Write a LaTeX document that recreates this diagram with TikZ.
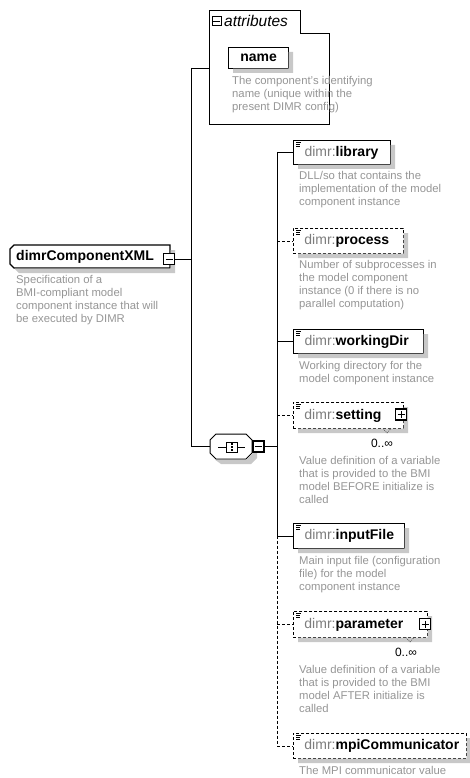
\documentclass[tikz,border=0pt]{standalone}
\usepackage{fontspec}
\setmainfont{Liberation Sans}
\usetikzlibrary{calc}
\definecolor{descgray}{RGB}{150,150,150}
\definecolor{nsgray}{RGB}{125,125,125}
\definecolor{shadowgray}{RGB}{200,200,200}
% element label: namespace prefix in grey, local name in bold
\newcommand\dimrlabel[1]{\hspace*{11pt}\textcolor{nsgray}{dimr:}\textbf{#1}}
% small three-line icon in the top left corner of an element box
\newcommand\elemicon[1]{%
  \draw[line width=0.6pt] ([shift={(3,2.5)}]#1.north west) -- +(5,0)
    ([shift={(3,4.3)}]#1.north west) -- +(4,0)
    ([shift={(3,6.1)}]#1.north west) -- +(4,0);}
% L-shaped flat shadow just outside the right and bottom side of a box (x1,y1,x2,y2)
\newcommand\flatshadow[4]{%
  \fill[shadowgray] (#3+0.7,#2+5) -- (#3+5,#2+5) -- (#3+5,#4+5) -- (#1+5,#4+5)
    -- (#1+5,#4+0.7) -- (#3+0.7,#4+0.7) -- cycle;}
\tikzset{
  conn/.style={line width=0.9pt},
  optconn/.style={conn, dash pattern=on 3pt off 2pt},
  elembox/.style={draw, line width=1.2pt, fill=white, anchor=north west,
    inner xsep=0pt, inner ysep=0pt, align=left,
    font=\fontsize{14}{16}\selectfont},
  optbox/.style={elembox, line width=0.9pt, dash pattern=on 3pt off 2pt},
  desc/.style={anchor=north west, inner sep=0pt, align=left, text=descgray,
    font=\fontsize{11.3}{13}\selectfont},
  toggle/.style={draw, line width=1.1pt, fill=white, minimum size=11pt, inner sep=0pt},
  minussign/.style={toggle, path picture={
    \draw[line width=1pt] ($(path picture bounding box.center)+(-3.5,0)$) -- ($(path picture bounding box.center)+(3.5,0)$);}},
  plussign/.style={toggle, path picture={
    \draw[line width=1pt] ($(path picture bounding box.center)+(-3.5,0)$) -- ($(path picture bounding box.center)+(3.5,0)$)
      ($(path picture bounding box.center)+(0,-3.5)$) -- ($(path picture bounding box.center)+(0,3.5)$);}},
  mult/.style={font=\fontsize{12}{14}\selectfont, inner sep=0pt},
  notch/.style={line width=0.6pt, dash pattern=on 1pt off 1pt, black!70},
}
\begin{document}
\begin{tikzpicture}[x=1pt, y=-1pt]
\useasboundingbox[fill=white] (0,0) rectangle (469,778);

% ---------- root element ----------
\draw[line width=1.2pt, fill=white] (10,249) -- (14,245) -- (170,245) -- (170,268) -- (14,268) -- (10,264) -- cycle;
\node[anchor=west, inner sep=0pt, font=\fontsize{14}{16}\selectfont\bfseries] (root) at (16,256.5) {dimrComponentXML};
\node[desc] (rootd) at (16,275) {Specification of a\\BMI-compliant model\\component instance that will\\be executed by DIMR};

% ---------- attributes group ----------
\draw[line width=0.9pt] (209,124) -- (209,10) -- (300,10) -- (300,33) -- (329,33) -- (329,124) -- cycle;
\node[minussign, minimum size=9pt, line width=1pt] (attrx) at (216.5,21.5) {};
\node[anchor=west, inner sep=0pt, font=\fontsize{15.5}{17}\selectfont\itshape] (attrlabel) at (224,21) {attributes};
\node[elembox, text width=60pt, align=center, minimum height=21pt] (name) at (228,47) {\textbf{name}};
\node[desc] (named) at (232,76) {The component's identifying\\name (unique within the\\present DIMR config)};
\coordinate (attrin) at (209,68);

% ---------- sequence compositor ----------
\draw[line width=1pt, fill=white] (210,440) -- (216,434) -- (246,434) -- (252,440) -- (252,453) -- (246,459) -- (216,459) -- (210,453) -- cycle;
\node[inner sep=0pt, minimum width=42pt, minimum height=25pt] (seq) at (231,446.5) {};
\draw[line width=0.8pt] (218,447) -- (245,447);
\draw[line width=0.8pt, fill=white] (226,442) rectangle (237,452);
\foreach \yy in {442.8,445.8,448.8} \fill (230.7,\yy) rectangle +(1.8,1.8);

% ---------- child elements ----------
\node[elembox, text width=97pt, minimum height=24pt] (lib) at (293,140) {\dimrlabel{library}};
\node[desc] (libd) at (299,171) {DLL/so that contains the\\implementation of the model\\component instance};

\node[optbox, text width=110pt, minimum height=25pt] (proc) at (293,228) {\dimrlabel{process}};
\node[desc] (procd) at (299,260) {Number of subprocesses in\\the model component\\instance (0 if there is no\\parallel computation)};

\node[elembox, text width=130pt, minimum height=24pt] (wdir) at (293,329) {\dimrlabel{workingDir}};
\node[desc] (wdird) at (299,361) {Working directory for the\\model component instance};

\node[optbox, text width=110pt, minimum height=26pt] (sett) at (293,402) {\dimrlabel{setting}};
\node[mult] (settm) at (382,443) {0..∞};
\node[desc] (settd) at (299,456) {Value definition of a variable\\that is provided to the BMI\\model BEFORE initialize is\\called};

\node[elembox, text width=111pt, minimum height=25pt] (input) at (293,523) {\dimrlabel{inputFile}};
\node[desc] (inputd) at (299,556) {Main input file (configuration\\file) for the model\\component instance};

\node[optbox, text width=134pt, minimum height=26pt] (param) at (293,611) {\dimrlabel{parameter}};
\node[mult] (paramm) at (406,652) {0..∞};
\node[desc] (paramd) at (299,665) {Value definition of a variable\\that is provided to the BMI\\model AFTER initialize is\\called};

\node[optbox, text width=173pt, minimum height=25pt] (mpi) at (293,733) {\dimrlabel{mpiCommunicator}};
\node[desc] (mpid) at (299,766) {The MPI communicator value};

\foreach \n in {lib,proc,wdir,sett,input,param,mpi} {\elemicon{\n}}

% ---------- flat shadows along the right and bottom sides ----------
\fill[shadowgray] (170.7,250) -- (175,250) -- (175,273) -- (19,273) -- (15,269) -- (15,268.7) -- (170.7,268.7) -- cycle;
\fill[shadowgray] (252.7,445) -- (257,445) -- (257,458) -- (251,464) -- (221,464) -- (215,459.7) -- (246.3,459.7) -- (252.7,453.3) -- cycle;
\flatshadow{228}{47}{288}{68}
\flatshadow{293}{140}{390}{164}
\flatshadow{293}{228}{403}{253}
\flatshadow{293}{329}{423}{353}
\flatshadow{293}{402}{403}{428}
\flatshadow{293}{523}{404}{548}
\flatshadow{293}{611}{427}{637}
\flatshadow{293}{733}{466}{758}

% ---------- expand/collapse boxes and repeat marks ----------
\node[minussign] (rootx) at (169,259) {};
\node[minussign] (seqx) at (258.5,446.5) {};
\node[plussign] (settx) at (401,414.5) {};
\node[plussign] (paramx) at (425,624) {};
\draw[notch] (383,428.5) -- (387,433) -- (391,428.5);
\draw[notch] (406,637.5) -- (410,642) -- (414,637.5);

% ---------- connectors ----------
\coordinate (spinetop) at (191,68);
\coordinate (spinebot) at (191,446.5);
\coordinate (kidtop) at (277,152);
\coordinate (kidmid) at (277,535.5);
\coordinate (kidbot) at (277,745.5);

\draw[conn] (rootx.east) -- (rootx.east -| spinetop);
\draw[conn] (spinetop) -- (spinebot);
\draw[conn] (spinetop) -- (attrin);
\draw[conn] (spinebot) -- (seq.west);
\draw[conn] (seqx.east) -- (seqx.east -| kidtop);

\draw[conn] (kidtop) -- (kidmid);
\draw[optconn] (kidmid) -- (kidbot);
\draw[conn] (lib.west -| kidtop) -- (lib.west);
\draw[optconn] (proc.west -| kidtop) -- (proc.west);
\draw[conn] (wdir.west -| kidtop) -- (wdir.west);
\draw[optconn] (sett.west -| kidtop) -- (sett.west);
\draw[conn] (input.west -| kidtop) -- (input.west);
\draw[optconn] (param.west -| kidtop) -- (param.west);
\draw[optconn] (mpi.west -| kidtop) -- (mpi.west);
\end{tikzpicture}
\end{document}
